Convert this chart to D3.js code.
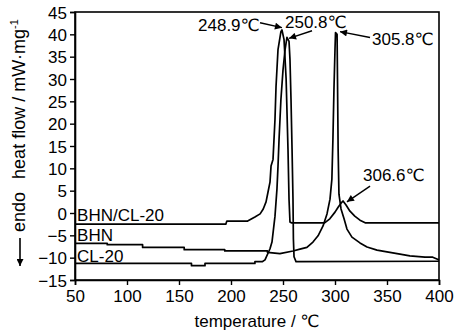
<!DOCTYPE html>
<html>
<head>
<meta charset="utf-8">
<script src="https://cdn.jsdelivr.net/npm/d3@7"></script>
<style>
  html, body { margin: 0; padding: 0; background: #fff; }
  svg { display: block; }
  text { font-family: "Liberation Sans", Arial, "DejaVu Sans", sans-serif; fill: #000; }
</style>
</head>
<body>
<svg id="chart" width="461" height="331"></svg>
<script>
// ---- data ----
const xTicks = [50, 100, 150, 200, 250, 300, 350, 400];
const yTicks = [-15, -10, -5, 0, 5, 10, 15, 20, 25, 30, 35, 40, 45];

const seriesNames = ["BHN/CL-20", "BHN", "CL-20"];

const tempBhnCl20 = [50, 195, 196, 216, 223, 228, 231, 233.7, 235.6, 237.5, 238.5, 240.4, 242.3, 243.3, 245.2, 248, 249, 251, 253, 254.8, 255.8, 256.7, 258, 290, 295, 300, 303, 305.8, 307.7, 310.6, 314.4, 319, 324, 329, 400];
const valBhnCl20  = [-2.5, -2.5, -1.8, -1.8, -0.9, -0.2, 0.9, 2.5, 4.7, 6.9, 10.5, 12, 21, 28.3, 36.6, 40.6, 41, 38.8, 30, 14.3, 3, -2, -2.2, -2.2, -1.3, 0.2, 1.3, 2.2, 2.7, 1.8, 0.4, -0.7, -1.6, -2.2, -2.2];

const tempBhn = [50, 81, 81, 115, 115, 155, 155, 194, 194, 235, 235, 247, 259.6, 266.3, 273, 278.8, 283.7, 288.5, 292.3, 295.2, 297, 298, 299, 300, 300.5, 302, 302.4, 303, 303.8, 305.8, 308.7, 311.5, 316.3, 324, 330.8, 340.4, 350, 362.5, 372, 386.5, 394, 398, 400];
const valBhn  = [-6.8, -6.8, -7.1, -7.1, -7.7, -7.7, -8.2, -8.2, -8.5, -8.5, -8.8, -9.1, -8.5, -8.1, -7.7, -6.5, -5.1, -2.9, -0.2, 3.1, 7.6, 16.5, 27.7, 36.6, 40.4, 40, 30, 14.3, 4.2, 0.9, -1.3, -3.6, -5.4, -6.7, -7.6, -8.3, -8.7, -9.2, -9.6, -9.9, -9.9, -10.3, -10.5];

const tempCl20 = [50, 162, 162, 175, 175, 223, 223, 230, 232.7, 237.5, 239.4, 242.3, 244.2, 245.2, 246.2, 248, 250, 252, 253.8, 255.8, 256.7, 257.7, 258.7, 259.6, 260, 260.6, 262.5, 400];
const valCl20  = [-11.3, -11.3, -11.8, -11.8, -11.3, -11.3, -10.9, -10.9, -10.5, -8.0, -6.5, -0.7, 5.4, 10.5, 16.5, 25.4, 32, 36.6, 39.3, 38.4, 34.4, 25.4, 14.3, 3.1, -5.8, -9.8, -10.9, -10.8];

// peak annotations: label, label anchor (T, v), arrow start (T, v), arrow tip (T, v)
const peakLabels = ["248.9℃", "250.8℃", "305.8℃", "306.6℃"];
const peakLabelT = [168.3, 251.9, 335.6, 326.9];
const peakLabelV = [40.8, 41.5, 37.7, 7.1];
const arrowFromT = [227.9, 277.9, 333.7, 333.7];
const arrowFromV = [42.6, 40.8, 39.3, 6.0];
const arrowToT = [249, 255.8, 304.8, 311.5];
const arrowToV = [41.5, 39.1, 40.6, 2.5];

// series label positions (T, v)
const seriesLabelT = [52, 52, 52];
const seriesLabelV = [-1.7, -6.2, -11.0];

// ---- chart ----
const svg = d3.select("#chart");
const W = 461, H = 331;
const m = { left: 75, right: 22, top: 12, bottom: 51 };

const x = d3.scaleLinear().domain([50, 400]).range([m.left, W - m.right]);
const y = d3.scaleLinear().domain([-15, 45]).range([H - m.bottom, m.top]);

svg.append("rect").attr("width", W).attr("height", H).attr("fill", "#fff");

const defs = svg.append("defs");
defs.append("marker")
  .attr("id", "ah").attr("viewBox", "0 0 10 10")
  .attr("refX", 10).attr("refY", 5)
  .attr("markerWidth", 9).attr("markerHeight", 7)
  .attr("markerUnits", "userSpaceOnUse")
  .attr("orient", "auto")
  .append("path").attr("d", "M0,0 L10,5 L0,10 Z").attr("fill", "#000");

// frame
svg.append("rect")
  .attr("x", x(50)).attr("y", y(45))
  .attr("width", x(400) - x(50)).attr("height", y(-15) - y(45))
  .attr("fill", "none").attr("stroke", "#000").attr("stroke-width", 1.6);

// axes
const xAxis = d3.axisBottom(x).tickValues(xTicks).tickSize(5).tickPadding(3).tickFormat(d3.format("d"));
const yAxis = d3.axisLeft(y).tickValues(yTicks).tickSize(5).tickPadding(3).tickFormat(d3.format("d"));

const gx = svg.append("g").attr("transform", `translate(0,${y(-15)})`).call(xAxis);
const gy = svg.append("g").attr("transform", `translate(${x(50)},0)`).call(yAxis);
[gx, gy].forEach(g => {
  g.select(".domain").attr("stroke", "#000").attr("stroke-width", 1.6);
  g.selectAll(".tick line").attr("stroke", "#000").attr("stroke-width", 1.4);
  g.selectAll(".tick text").attr("font-size", 17).attr("fill", "#000")
    .style("font-family", '"Liberation Sans", Arial, sans-serif');
});
gx.selectAll(".tick text").attr("dy", "0.8em");
gy.selectAll(".tick text").attr("dy", "0.36em");

// curves
const line = d3.line().x(d => x(d[0])).y(d => y(d[1]));
const series = [
  d3.zip(tempBhnCl20, valBhnCl20),
  d3.zip(tempBhn, valBhn),
  d3.zip(tempCl20, valCl20)
];
svg.append("g").selectAll("path").data(series).join("path")
  .attr("d", line)
  .attr("fill", "none").attr("stroke", "#000").attr("stroke-width", 1.7)
  .attr("stroke-linejoin", "round");

// series labels
svg.append("g").selectAll("text").data(seriesNames).join("text")
  .attr("x", (d, i) => x(seriesLabelT[i]))
  .attr("y", (d, i) => y(seriesLabelV[i]))
  .attr("font-size", 17)
  .text(d => d);

// peak annotations
const ann = svg.append("g");
peakLabels.forEach((lab, i) => {
  ann.append("text")
    .attr("x", x(peakLabelT[i])).attr("y", y(peakLabelV[i]))
    .attr("font-size", 17).text(lab);
  ann.append("line")
    .attr("x1", x(arrowFromT[i])).attr("y1", y(arrowFromV[i]))
    .attr("x2", x(arrowToT[i])).attr("y2", y(arrowToV[i]))
    .attr("stroke", "#000").attr("stroke-width", 1.4)
    .attr("marker-end", "url(#ah)");
});

// axis titles
svg.append("text")
  .attr("x", (x(50) + x(400)) / 2 + 0).attr("y", 327)
  .attr("text-anchor", "middle").attr("font-size", 17)
  .text("temperature / ℃");

const yt = svg.append("text")
  .attr("transform", "translate(25,99) rotate(-90)")
  .attr("text-anchor", "middle").attr("font-size", 18);
yt.append("tspan").text("heat flow / mW·mg");
yt.append("tspan").attr("dy", -7).attr("font-size", 11).text("-1");

svg.append("text")
  .attr("transform", "translate(25,212) rotate(-90)")
  .attr("text-anchor", "middle").attr("font-size", 18)
  .text("endo");

// endo arrow
svg.append("line")
  .attr("x1", 20).attr("y1", 238).attr("x2", 20).attr("y2", 266)
  .attr("stroke", "#000").attr("stroke-width", 1.6)
  .attr("marker-end", "url(#ah)");
</script>
</body>
</html>
